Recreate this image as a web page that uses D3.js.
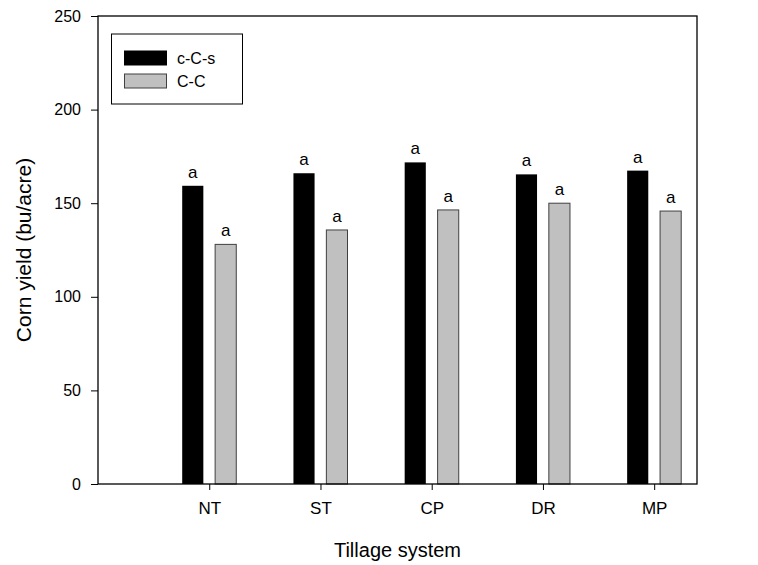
<!DOCTYPE html>
<html>
<head>
<meta charset="utf-8">
<script src="https://cdn.jsdelivr.net/npm/d3@7"></script>
<style>
  body { margin: 0; background: #fff; }
  svg { font-family: "Liberation Sans", Arial, sans-serif; }
</style>
</head>
<body>
<svg id="chart" width="758" height="565"></svg>
<script>
// data
const systems = ["NT", "ST", "CP", "DR", "MP"];
const ccsYield = [159.3, 166.0, 171.8, 165.4, 167.4];
const ccYield = [128.0, 135.7, 146.4, 150.0, 145.8];
const ccsLetters = ["a", "a", "a", "a", "a"];
const ccLetters = ["a", "a", "a", "a", "a"];
const yTicks = [0, 50, 100, 150, 200, 250];

const svg = d3.select("#chart");
const plotLeft = 98, plotRight = 697, plotTop = 16, plotBottom = 484;

// x scale: categories sit at 1..5
const x = d3.scaleLinear().domain([0, 5.385]).range([plotLeft, plotRight]);
const y = d3.scaleLinear().domain([0, 250]).range([plotBottom, plotTop]);

const barW = 0.19, offset = 0.148;

const rows = systems.map((s, i) => ({
    s, i: i + 1, ccs: ccsYield[i], cc: ccYield[i], la: ccsLetters[i], lb: ccLetters[i]
}));

// black bars (c-C-s)
svg.append("g").selectAll("rect")
    .data(rows)
    .enter()
    .append("rect")
    .attr("x", d => x(d.i - offset - barW / 2))
    .attr("width", x(barW) - x(0))
    .attr("y", d => y(d.ccs))
    .attr("height", d => y(0) - y(d.ccs))
    .style("fill", "#000");

// gray bars (C-C)
svg.append("g").selectAll("rect")
    .data(rows)
    .enter()
    .append("rect")
    .attr("x", d => x(d.i + offset - barW / 2))
    .attr("width", x(barW) - x(0))
    .attr("y", d => y(d.cc))
    .attr("height", d => y(0) - y(d.cc))
    .style("fill", "#c0c0c0")
    .style("stroke", "#404040")
    .style("stroke-width", 1);

// letters
const letters = svg.append("g")
    .style("font-size", "17px")
    .attr("text-anchor", "middle");
letters.selectAll(".la")
    .data(rows)
    .enter()
    .append("text")
    .attr("x", d => x(d.i - offset))
    .attr("y", d => y(d.ccs) - 8)
    .text(d => d.la);
letters.selectAll(".lb")
    .data(rows)
    .enter()
    .append("text")
    .attr("x", d => x(d.i + offset))
    .attr("y", d => y(d.cc) - 8)
    .text(d => d.lb);

// frame
svg.append("rect")
    .attr("x", plotLeft)
    .attr("y", plotTop)
    .attr("width", plotRight - plotLeft)
    .attr("height", plotBottom - plotTop)
    .style("fill", "none")
    .style("stroke", "#000")
    .style("stroke-width", 1.3);

// y axis
const yAxis = svg.append("g")
    .attr("transform", "translate(" + plotLeft + ",0)")
    .call(d3.axisLeft(y).tickValues(yTicks).tickSize(7).tickPadding(10));
yAxis.select(".domain").remove();
yAxis.selectAll("text")
    .style("font-size", "16px")
    .style("font-family", "Liberation Sans, Arial, sans-serif")
    .style("fill", "#000");

// x axis
const xAxis = svg.append("g")
    .attr("transform", "translate(0," + plotBottom + ")")
    .call(d3.axisBottom(x)
        .tickValues(d3.range(1, systems.length + 1))
        .tickFormat(d => systems[d - 1])
        .tickSize(6)
        .tickPadding(12));
xAxis.select(".domain").remove();
xAxis.selectAll("text")
    .style("font-size", "17px")
    .style("font-family", "Liberation Sans, Arial, sans-serif")
    .style("fill", "#000");

// axis titles
svg.append("text")
    .attr("x", (plotLeft + plotRight) / 2)
    .attr("y", 557)
    .attr("text-anchor", "middle")
    .style("font-size", "20px")
    .text("Tillage system");

svg.append("text")
    .attr("text-anchor", "middle")
    .attr("transform", "translate(31," + (plotTop + plotBottom) / 2 + ")rotate(-90)")
    .style("font-size", "21px")
    .text("Corn yield (bu/acre)");

// legend
const legend = svg.append("g");
legend.append("rect")
    .attr("x", 111.5)
    .attr("y", 34)
    .attr("width", 131)
    .attr("height", 70)
    .style("fill", "#fff")
    .style("stroke", "#000")
    .style("stroke-width", 1);

const legendItems = [
    { label: "c-C-s", fill: "#000", stroke: "#000" },
    { label: "C-C", fill: "#c0c0c0", stroke: "#404040" }
];
legendItems.forEach((d, i) => {
    legend.append("rect")
        .attr("x", 124.5)
        .attr("y", 51 + i * 23)
        .attr("width", 42)
        .attr("height", 14)
        .style("fill", d.fill)
        .style("stroke", d.stroke);
    legend.append("text")
        .attr("x", 177)
        .attr("y", 64 + i * 23)
        .style("font-size", "16px")
        .text(d.label);
});
</script>
</body>
</html>
